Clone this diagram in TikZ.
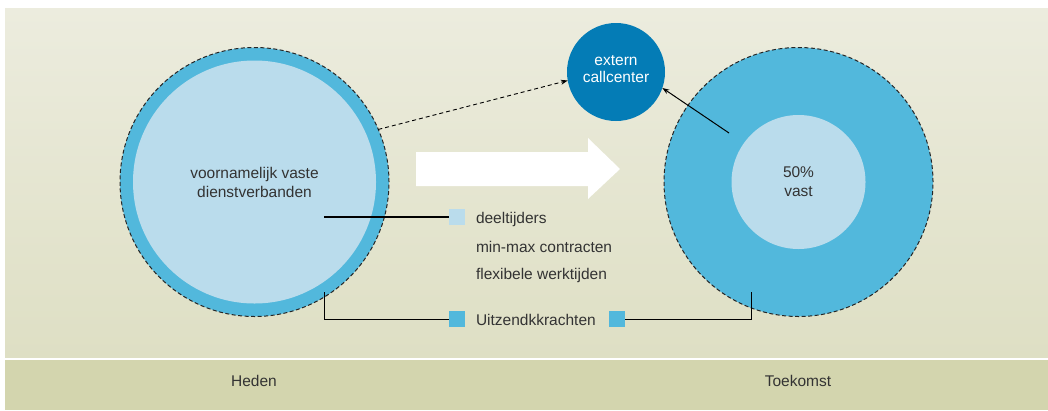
\documentclass[tikz,border=0pt]{standalone}
\usepackage{fontspec}
\setmainfont{Liberation Sans}
\usepackage{tikz}
\usetikzlibrary{arrows.meta,positioning}

\definecolor{ringblue}{RGB}{82,184,220}
\definecolor{paleblue}{RGB}{186,220,236}
\definecolor{deepblue}{RGB}{4,124,182}
\definecolor{paneltop}{RGB}{236,236,222}
\definecolor{panelbot}{RGB}{222,223,196}
\definecolor{bandcol}{RGB}{211,213,174}
\definecolor{ink}{RGB}{51,51,51}

\begin{document}
\begin{tikzpicture}[x=1pt,y=-1pt,font=\fontsize{15.5}{19}\selectfont]
        \tikzstyle{every node} = [inner sep=0pt, outer sep=0pt, text=ink]
        \tikzstyle{ring} = [circle, fill=ringblue, draw=black!85, dash pattern=on 4pt off 2.5pt, line width=1pt, minimum size=269pt]
        \tikzstyle{core} = [circle, fill=paleblue, align=center]
        \tikzstyle{swatch} = [rectangle, minimum size=16pt]
        \useasboundingbox (0,0) rectangle (1048,410);
        \fill[white] (0,0) rectangle (1048,410);
        \shade[top color=paneltop, bottom color=panelbot] (5,8) rectangle (1048,357);
        \fill[bandcol] (5,360) rectangle (1048,410);

        % circles
        \node[ring] (heden) at (254.5,182) {};
        \node[core, minimum size=243pt] (hedenIn) at (heden) {voornamelijk vaste\\dienstverbanden};
        \node[ring] (toek) at (798.5,182) {};
        \node[core, minimum size=134pt] (toekIn) at (toek) {50\%\\vast};
        \node[circle, fill=deepblue, minimum size=98pt] (extern) at (616,72) {};
        \node[text=white, align=center, font=\fontsize{15.5}{17}\selectfont] (externTxt) at (616,69.5) {extern\\callcenter};

        % big white arrow
        \fill[white] (416,152) -- (588,152) -- (588,138) -- (620,169) -- (588,199) -- (588,186) -- (416,186) -- cycle;

        % legend
        \node[swatch, fill=paleblue] (sqDeel) at (457,217) {};
        \node[swatch, fill=ringblue] (sqUitzL) at (457,319) {};
        \node[swatch, fill=ringblue] (sqUitzR) at (617,319) {};
        \foreach \y/\name/\txt in {223/deel/deeltijders, 252/minmax/min-max contracten,
                                   279/flex/flexibele werktijden, 325/uitz/Uitzendkkrachten}
            \node[anchor=base west] (\name) at (476,\y) {\txt};

        \node (nu) at (254,381) {Heden};
        \node (later) at (798,381) {Toekomst};

        % connectors
        \coordinate (hedenA) at (324,217);
        \coordinate (hedenB) at (324,292);
        \coordinate (toekA) at (729,133);
        \coordinate (toekB) at (751,292);
        \draw[line width=1.6pt] (hedenA) -- (sqDeel);
        \draw[line width=0.9pt] (hedenB) |- (sqUitzL);
        \draw[line width=0.9pt] (sqUitzR) -| (toekB);
        \draw[line width=0.9pt, dash pattern=on 4pt off 3pt, -{Stealth[length=7pt,width=5pt]}] (heden.23) -- (extern.190);
        \draw[line width=1pt, -{Stealth[length=7pt,width=5pt]}] (toekA) -- (extern.-19);
      \end{tikzpicture}
\end{document}
